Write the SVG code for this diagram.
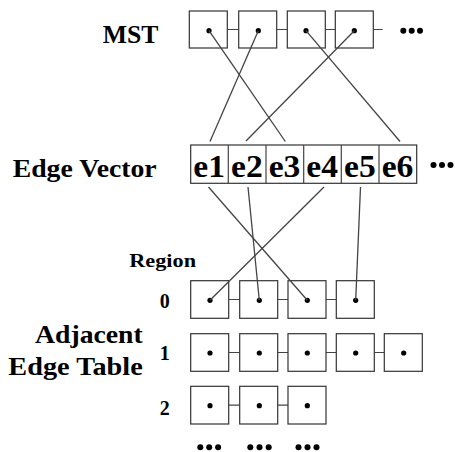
<svg xmlns="http://www.w3.org/2000/svg" width="455" height="452" viewBox="0 0 455 452">
<defs>
<style>
.t{font-family:"Liberation Serif","Times New Roman",serif;font-weight:bold;fill:#000}
.box{fill:#fff;stroke:#333;stroke-width:1.2}
.lnk{stroke:#444;stroke-width:1.2;fill:none}
.con{stroke:#444;stroke-width:1.3;fill:none}
.dot{fill:#000}
</style>
</defs>
<rect width="455" height="452" fill="#fff"/>

<g id="labels">
<text class="t" x="102.7" y="42.7" font-size="26" textLength="55.6" lengthAdjust="spacingAndGlyphs">MST</text>
<text class="t" x="12.7" y="176.7" font-size="25" textLength="144" lengthAdjust="spacingAndGlyphs">Edge Vector</text>
<text class="t" x="129.3" y="267" font-size="19.5" textLength="66.7" lengthAdjust="spacingAndGlyphs">Region</text>
<text class="t" x="35" y="343.3" font-size="25" textLength="107.7" lengthAdjust="spacingAndGlyphs">Adjacent</text>
<text class="t" x="8.3" y="375" font-size="25" textLength="134.4" lengthAdjust="spacingAndGlyphs">Edge Table</text>
<text class="t" x="164.7" y="307.5" font-size="20" text-anchor="middle">0</text>
<text class="t" x="164.7" y="360" font-size="20" text-anchor="middle">1</text>
<text class="t" x="164.7" y="414.5" font-size="20" text-anchor="middle">2</text>
</g>

<g id="mst">
<path class="lnk" d="M227.3 29.5H238.7M276.7 29.5H287.3M325.3 29.5H335.3M373.3 29.5H382.7"/>
<rect class="box" x="189.3" y="11" width="38" height="37"/>
<rect class="box" x="238.7" y="11" width="38" height="37"/>
<rect class="box" x="287.3" y="11" width="38" height="37"/>
<rect class="box" x="335.3" y="11" width="38" height="37"/>
<circle class="dot" cx="209" cy="30.7" r="2.6"/>
<circle class="dot" cx="258.3" cy="30.7" r="2.6"/>
<circle class="dot" cx="306" cy="30.7" r="2.6"/>
<circle class="dot" cx="354.3" cy="30.7" r="2.6"/>
<circle class="dot" cx="403.3" cy="30.7" r="3"/>
<circle class="dot" cx="411.7" cy="30.7" r="3"/>
<circle class="dot" cx="420" cy="30.7" r="3"/>
</g>

<g id="edge-vector">
<rect class="box" x="190.7" y="145" width="226" height="38.3"/>
<path class="lnk" d="M228.3 145V183.3M266 145V183.3M303.7 145V183.3M341.3 145V183.3M379 145V183.3"/>
<text class="t" x="193.3" y="177.3" font-size="31" textLength="31.7" lengthAdjust="spacingAndGlyphs">e1</text>
<text class="t" x="231" y="177.3" font-size="31" textLength="31.7" lengthAdjust="spacingAndGlyphs">e2</text>
<text class="t" x="268.7" y="177.3" font-size="31" textLength="31.7" lengthAdjust="spacingAndGlyphs">e3</text>
<text class="t" x="306.3" y="177.3" font-size="31" textLength="31.7" lengthAdjust="spacingAndGlyphs">e4</text>
<text class="t" x="344" y="177.3" font-size="31" textLength="31.7" lengthAdjust="spacingAndGlyphs">e5</text>
<text class="t" x="381.7" y="177.3" font-size="31" textLength="31.7" lengthAdjust="spacingAndGlyphs">e6</text>
<circle class="dot" cx="433.5" cy="165" r="3"/>
<circle class="dot" cx="442" cy="165" r="3"/>
<circle class="dot" cx="450.5" cy="165" r="3"/>
</g>

<g id="region-0">
<path class="lnk" d="M228.7 299.5H239.7M277.7 299.5H288M326 299.5H336.3"/>
<rect class="box" x="190.7" y="280.7" width="38" height="37.6"/>
<rect class="box" x="239.7" y="280.7" width="38" height="37.6"/>
<rect class="box" x="288" y="280.7" width="38" height="37.6"/>
<rect class="box" x="336.3" y="280.7" width="38" height="37.6"/>
<circle class="dot" cx="210" cy="300.3" r="2.6"/>
<circle class="dot" cx="259.3" cy="300.3" r="2.6"/>
<circle class="dot" cx="307.3" cy="300.3" r="2.6"/>
<circle class="dot" cx="355.7" cy="300.3" r="2.6"/>
</g>

<g id="region-1">
<path class="lnk" d="M228.7 352.5H239.7M277.7 352.5H288M326 352.5H336.3M374.3 352.5H384.3"/>
<rect class="box" x="190.7" y="333.7" width="38" height="37.6"/>
<rect class="box" x="239.7" y="333.7" width="38" height="37.6"/>
<rect class="box" x="288" y="333.7" width="38" height="37.6"/>
<rect class="box" x="336.3" y="333.7" width="38" height="37.6"/>
<rect class="box" x="384.3" y="333.7" width="38" height="37.6"/>
<circle class="dot" cx="210" cy="353" r="2.6"/>
<circle class="dot" cx="259.3" cy="353" r="2.6"/>
<circle class="dot" cx="307.3" cy="353" r="2.6"/>
<circle class="dot" cx="355.7" cy="353" r="2.6"/>
<circle class="dot" cx="403.7" cy="353" r="2.6"/>
</g>

<g id="region-2">
<path class="lnk" d="M228.7 405.2H239.7M277.7 405.2H288"/>
<rect class="box" x="190.7" y="386.3" width="38" height="37.7"/>
<rect class="box" x="239.7" y="386.3" width="38" height="37.7"/>
<rect class="box" x="288" y="386.3" width="38" height="37.7"/>
<circle class="dot" cx="210" cy="405.7" r="2.6"/>
<circle class="dot" cx="259.3" cy="405.7" r="2.6"/>
<circle class="dot" cx="307.3" cy="405.7" r="2.6"/>
</g>

<g id="more-regions">
<circle class="dot" cx="200.3" cy="447.3" r="3"/>
<circle class="dot" cx="209.2" cy="447.3" r="3"/>
<circle class="dot" cx="218.1" cy="447.3" r="3"/>
<circle class="dot" cx="250.3" cy="447.3" r="3"/>
<circle class="dot" cx="259.5" cy="447.3" r="3"/>
<circle class="dot" cx="268.7" cy="447.3" r="3"/>
<circle class="dot" cx="298.5" cy="447.3" r="3"/>
<circle class="dot" cx="307.5" cy="447.3" r="3"/>
<circle class="dot" cx="316.5" cy="447.3" r="3"/>
</g>

<g id="connectors">
<line class="con" x1="209" y1="30.7" x2="285.3" y2="141.5"/>
<line class="con" x1="258.3" y1="30.7" x2="210" y2="141.5"/>
<line class="con" x1="306" y1="30.7" x2="400" y2="141.5"/>
<line class="con" x1="354.3" y1="30.7" x2="246" y2="141"/>
<line class="con" x1="208.5" y1="187" x2="307.3" y2="300.3"/>
<line class="con" x1="248" y1="187" x2="259.3" y2="300.3"/>
<line class="con" x1="324" y1="187" x2="210" y2="300.3"/>
<line class="con" x1="360.5" y1="187" x2="355.7" y2="300.3"/>
</g>
</svg>
